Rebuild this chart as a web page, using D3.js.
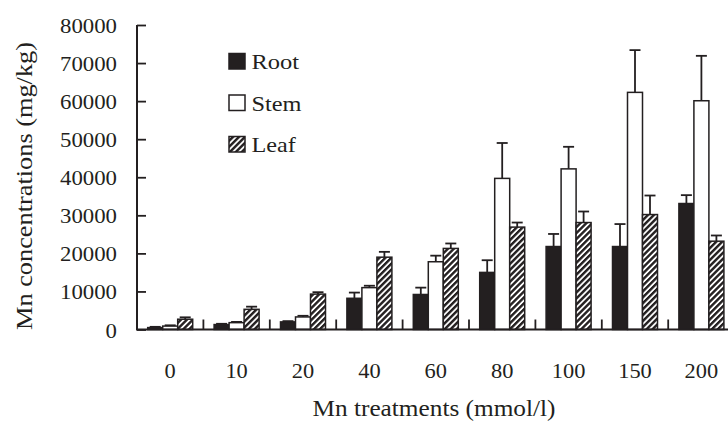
<!DOCTYPE html>
<html><head><meta charset="utf-8">
<script src="https://cdn.jsdelivr.net/npm/d3@7"></script>
<style>body{margin:0;background:#fff}svg{display:block}text{font-family:"Liberation Serif","Times New Roman",serif;fill:#231f20}</style>
</head><body><svg id="c" width="728" height="421"></svg>
<script>
const categories = ["0","10","20","40","60","80","100","150","200"];
const seriesNames = ["Root","Stem","Leaf"];
const root    = [500, 1300, 2000, 8200, 9200, 15000, 21800, 21800, 33100];
const rootErr = [200, 200, 200, 1500, 1800, 3200, 3300, 5900, 2200];
const stem    = [900, 1800, 3300, 11000, 17800, 39700, 42200, 62300, 60100];
const stemErr = [200, 200, 300, 500, 1600, 9300, 5800, 11100, 11800];
const leaf    = [2700, 5300, 9300, 19000, 21300, 26900, 28100, 30200, 23200];
const leafErr = [500, 700, 500, 1400, 1300, 1200, 2900, 5000, 1500];
const yTicks  = [0,10000,20000,30000,40000,50000,60000,70000,80000];
const xTitle = "Mn treatments (mmol/l)";
const yTitle = "Mn concentrations (mg/kg)";

const ink = "#231f20";
const svg = d3.select("#c");
const defs = svg.append("defs");
const pat = defs.append("pattern").attr("id","hatch").attr("patternUnits","userSpaceOnUse")
  .attr("width",4.2).attr("height",4.2).attr("patternTransform","rotate(45)");
pat.append("rect").attr("width",4.2).attr("height",4.2).attr("fill","#fff");
pat.append("rect").attr("x",0).attr("width",2.4).attr("height",4.2).attr("fill",ink);

const x0 = 137, xEnd = 734.6, y0 = 329.5, yTop = 25;
const x = d3.scaleBand().domain(categories).range([x0, xEnd]).paddingInner(0).paddingOuter(0);
const xs = d3.scaleBand().domain(seriesNames).range([10.7, x.bandwidth()-10.7]).padding(0);
const y = d3.scaleLinear().domain([0, 80000]).range([y0, yTop]);

const data = seriesNames.map((s,i)=>({name:s, vals:[root,stem,leaf][i], errs:[rootErr,stemErr,leafErr][i],
  fill:[ink,"#fff","url(#hatch)"][i]}));

// bars
const g = svg.append("g");
data.forEach(s=>{
  categories.forEach((c,j)=>{
    const bx = x(c)+xs(s.name), bw = xs.bandwidth();
    const top = y(s.vals[j]), etop = y(s.vals[j]+s.errs[j]);
    const cx = bx + bw/2;
    g.append("line").attr("x1",cx).attr("x2",cx).attr("y1",top).attr("y2",etop)
      .attr("stroke",ink).attr("stroke-width",1.8);
    g.append("line").attr("x1",cx-5.5).attr("x2",cx+5.5).attr("y1",etop).attr("y2",etop)
      .attr("stroke",ink).attr("stroke-width",1.8);
    g.append("rect").attr("x",bx).attr("y",top).attr("width",bw).attr("height",y0-top)
      .attr("fill",s.fill).attr("stroke",ink).attr("stroke-width",1.5);
  });
});

// y axis
const yAxis = d3.axisRight(y).tickValues(yTicks).tickSize(9).tickFormat("");
const ya = svg.append("g").attr("transform",`translate(${x0},0)`).call(yAxis);
ya.select(".domain").attr("d",`M0,${yTop}V${y0}`).attr("stroke",ink).attr("stroke-width",2);
ya.selectAll(".tick line").attr("stroke",ink).attr("stroke-width",1.8);
svg.append("g").selectAll("text").data(yTicks).join("text")
  .attr("x",117).attr("y",d=>y(d)+8).attr("text-anchor","end")
  .attr("font-size",22).attr("textLength",d=>String(d).length*11.4).attr("lengthAdjust","spacingAndGlyphs").text(d=>d);

// x axis
const xa = svg.append("g");
xa.append("line").attr("x1",x0-1).attr("x2",728).attr("y1",y0).attr("y2",y0).attr("stroke",ink).attr("stroke-width",2);
xa.selectAll("line.t").data(categories.slice(1)).join("line").attr("class","t")
  .attr("x1",d=>x(d)).attr("x2",d=>x(d)).attr("y1",y0).attr("y2",y0-10)
  .attr("stroke",ink).attr("stroke-width",1.8);
xa.selectAll("text").data(categories).join("text")
  .attr("x",d=>x(d)+x.bandwidth()/2).attr("y",378).attr("text-anchor","middle")
  .attr("font-size",22).attr("textLength",d=>d.length*11.2).attr("lengthAdjust","spacingAndGlyphs").text(d=>d);

// titles
svg.append("text").attr("x",434).attr("y",416).attr("text-anchor","middle")
  .attr("font-size",24).attr("textLength",243).attr("lengthAdjust","spacingAndGlyphs").text(xTitle);
svg.append("text").attr("transform","translate(32,186) rotate(-90)").attr("text-anchor","middle")
  .attr("font-size",24).attr("textLength",288).attr("lengthAdjust","spacingAndGlyphs").text(yTitle);

// legend
const legendW = [47.6, 50, 44.3];
const lg = svg.append("g");
data.forEach((s,i)=>{
  const ly = 53.5 + i*41.5;
  lg.append("rect").attr("x",229).attr("y",ly).attr("width",16).attr("height",15.5)
    .attr("fill",s.fill).attr("stroke",ink).attr("stroke-width",1.5);
  lg.append("text").attr("x",251.5).attr("y",ly+15.8).attr("font-size",22)
    .attr("textLength",legendW[i]).attr("lengthAdjust","spacingAndGlyphs").text(s.name);
});
</script></body></html>
